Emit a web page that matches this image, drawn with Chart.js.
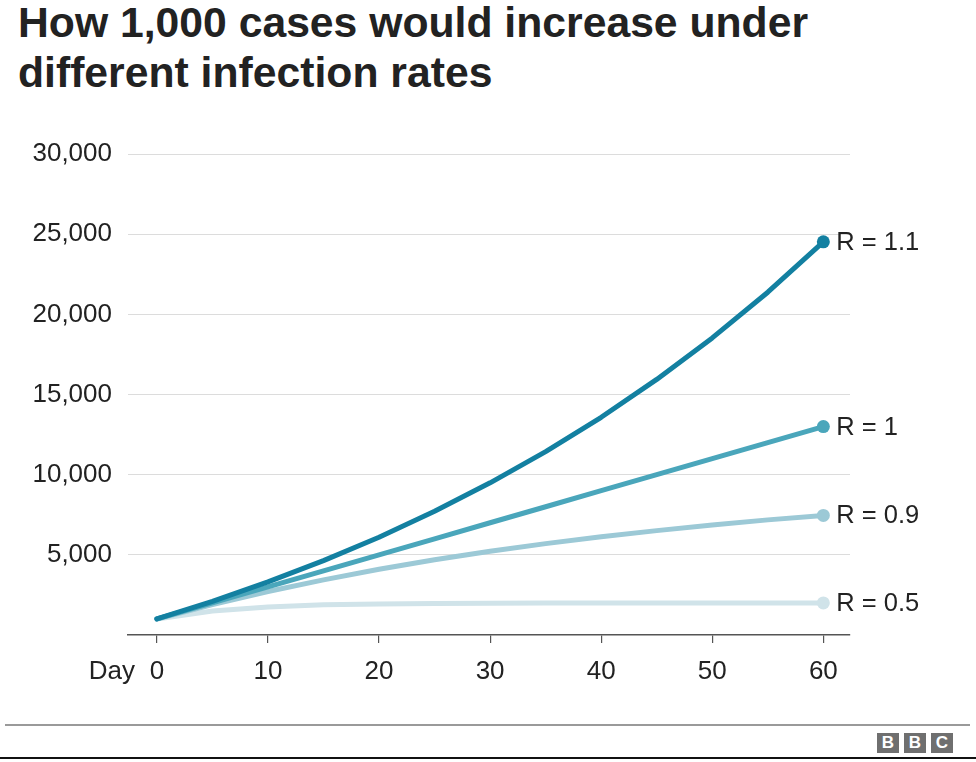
<!DOCTYPE html>
<html>
<head>
<meta charset="utf-8">
<script src="https://cdn.jsdelivr.net/npm/chart.js@4/dist/chart.umd.min.js"></script>
<style>
  body { margin:0; background:#fff; width:976px; height:762px; position:relative; overflow:hidden; font-family:"Liberation Sans", Arial, sans-serif; }
  #title { position:absolute; left:18px; top:-3px; margin:0; font-size:42.7px; line-height:50px; font-weight:700; color:#222; }
  #wrap { position:absolute; left:0; top:0; width:976px; height:700px; }
  #rule { position:absolute; left:5px; right:6px; top:724px; height:2px; background:#9a9a9a; }
  #bottom { position:absolute; left:0; right:0; top:757px; height:2px; background:#111; }
  #logo { position:absolute; left:877px; top:733px; display:flex; gap:5px; }
  #logo span { width:22px; height:20px; background:#6f6f6f; color:#fff; font-weight:700; font-size:17px; line-height:20px; text-align:center; }
</style>
</head>
<body>
<h1 id="title">How 1,000 cases would increase under<br>different infection rates</h1>
<div id="wrap"><canvas id="chart"></canvas></div>
<div id="rule"></div>
<div id="logo"><span>B</span><span>B</span><span>C</span></div>
<div id="bottom"></div>
<script>
// day of each reading
const days = [0, 5, 10, 15, 20, 25, 30, 35, 40, 45, 50, 55, 60];
const seriesLabels = ['R = 1.1', 'R = 1', 'R = 0.9', 'R = 0.5'];
const r11 = [1000, 2100, 3310, 4640, 6100, 7720, 9490, 11440, 13580, 15940, 18530, 21380, 24520];
const r10 = [1000, 2000, 3000, 4000, 5000, 6000, 7000, 8000, 9000, 10000, 11000, 12000, 13000];
const r09 = [1000, 1900, 2710, 3440, 4100, 4690, 5220, 5700, 6130, 6510, 6860, 7180, 7460];
const r05 = [1000, 1500, 1750, 1880, 1940, 1970, 1980, 1990, 2000, 2000, 2000, 2000, 2000];
const seriesColors = ['#1380a1', '#4aa6bb', '#9cc9d6', '#d0e3e9'];
const xTicks = [0, 10, 20, 30, 40, 50, 60];
const yTicks = [5000, 10000, 15000, 20000, 25000, 30000];

const allSeries = [r11, r10, r09, r05];
const FONT = '"Liberation Sans", Arial, sans-serif';

const endLabels = {
  id: 'endLabels',
  afterDatasetsDraw(chart) {
    const ctx = chart.ctx;
    ctx.save();
    ctx.font = '25.5px ' + FONT;
    ctx.fillStyle = '#222';
    ctx.textBaseline = 'middle';
    ctx.textAlign = 'left';
    chart.data.datasets.forEach((ds, i) => {
      const pts = chart.getDatasetMeta(i).data;
      const p = pts[pts.length - 1];
      ctx.fillText(seriesLabels[i], p.x + 13, p.y + 1);
    });
    // "Day" caption next to the x tick labels
    const x = chart.scales.x;
    ctx.font = '26px ' + FONT;
    ctx.textAlign = 'right';
    ctx.fillText('Day', x.getPixelForValue(0) - 22, chart.chartArea.bottom + 37);
    ctx.restore();
  }
};

new Chart(document.getElementById('chart'), {
  type: 'line',
  data: {
    datasets: allSeries.map((s, i) => ({
      label: seriesLabels[i],
      data: s.map((v, j) => ({ x: days[j], y: v })),
      borderColor: seriesColors[i],
      backgroundColor: seriesColors[i],
      borderWidth: 5,
      tension: 0,
      borderCapStyle: 'round',
      borderJoinStyle: 'round',
      pointRadius: c => c.dataIndex === s.length - 1 ? 6.5 : 0,
      pointBorderWidth: 0,
      pointHoverRadius: 0
    }))
  },
  options: {
    responsive: true,
    maintainAspectRatio: false,
    animation: false,
    events: [],
    layout: { padding: { top: 154, right: 126, left: 0, bottom: 0 } },
    plugins: { legend: { display: false }, tooltip: { enabled: false } },
    scales: {
      x: {
        type: 'linear',
        min: -2.6,
        max: 62.4,
        afterBuildTicks: s => { s.ticks = xTicks.map(v => ({ value: v })); },
        afterFit: s => { s.height = 65; },
        grid: { drawOnChartArea: false, drawTicks: true, tickLength: 8, color: '#555', lineWidth: 1.2 },
        border: { display: true, color: '#555', width: 1.5 },
        ticks: { color: '#222', padding: 13, maxRotation: 0, font: { size: 26, family: FONT } }
      },
      y: {
        min: 0,
        max: 30000,
        afterBuildTicks: s => { s.ticks = yTicks.map(v => ({ value: v })); },
        afterFit: s => { s.width = 128; },
        grid: { color: '#dcdcdc', lineWidth: 1, drawTicks: false },
        border: { display: false },
        ticks: {
          color: '#222',
          padding: 16,
          font: { size: 26, family: FONT },
          callback: v => v.toLocaleString('en-GB')
        }
      }
    }
  },
  plugins: [endLabels]
});
</script>
</body>
</html>
